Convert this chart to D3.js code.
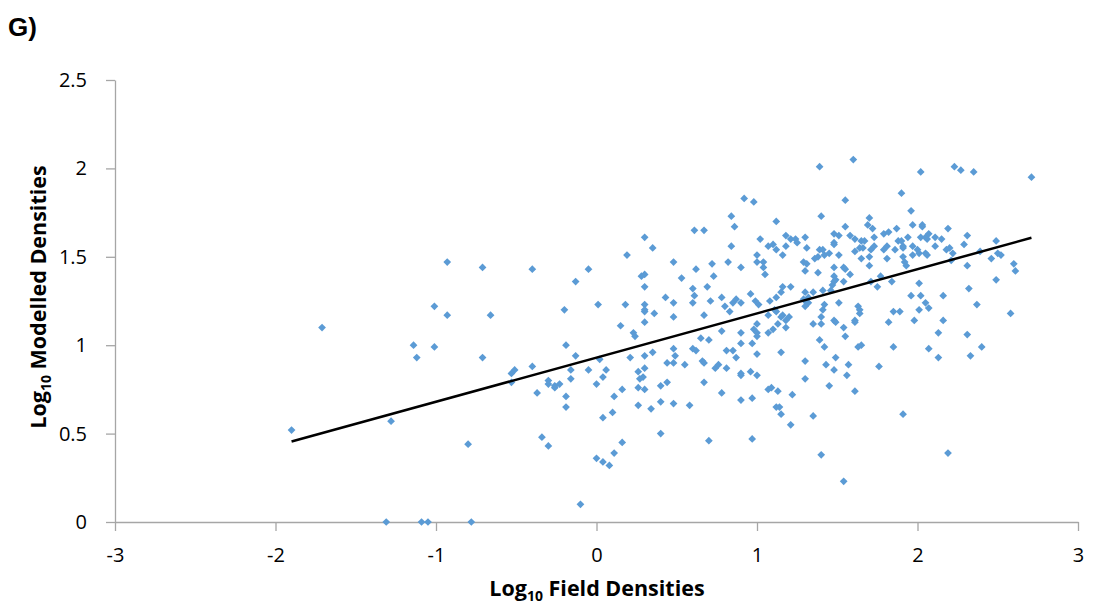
<!DOCTYPE html>
<html>
<head>
<meta charset="utf-8">
<script src="https://cdn.jsdelivr.net/npm/d3@7"></script>
<style>
  html, body { margin: 0; padding: 0; background: #fff; }
  svg { display: block; }
  .tick text { font-family: "Open Sans", "Noto Sans", sans-serif; }
</style>
</head>
<body>
<svg id="chart" width="1094" height="605"></svg>
<script>
// Panel G: log10 field densities vs log10 modelled densities, one point per site
const panelLabel = "G)";
const xTicks = [-3, -2, -1, 0, 1, 2, 3];
const yTicks = [0, 0.5, 1, 1.5, 2, 2.5];

const logField = [
  -0.93,-0.71,-0.40,-1.01,-0.93,-0.66,-0.20,-1.71,-1.14,-1.01,-0.19,-1.12,-0.71,-0.40,-0.51,-0.53,-0.53,-0.30,-0.30,-0.26,
  -0.26,-0.23,-0.37,-0.19,-0.19,-1.90,-1.28,-0.80,-0.34,-0.30,-1.31,-1.09,-1.05,-0.78,
  0.92,0.98,0.84,0.86,0.61,0.67,0.84,0.30,0.35,0.19,1.00,1.00,-0.05,0.48,0.62,0.72,0.82,0.90,-0.13,0.28,
  0.30,0.53,0.73,0.30,0.60,0.69,0.61,0.96,0.01,0.18,0.30,0.30,0.30,0.43,0.48,0.60,0.71,0.78,0.85,0.87,
  0.90,0.99,1.01,0.80,0.83,0.36,0.67,0.48,0.15,0.30,1.00,0.23,0.24,0.78,0.90,0.98,0.65,
  -0.13,0.02,-0.05,-0.16,-0.16,0.06,0.04,0.00,0.21,0.30,0.35,0.48,0.49,0.44,0.48,0.55,0.30,0.26,0.29,0.27,
  0.16,0.11,0.26,0.30,0.40,0.44,0.26,0.34,0.40,0.48,0.58,0.10,0.04,0.16,0.11,0.00,0.04,0.08,-0.10,0.40,
  0.60,0.62,0.70,0.66,0.67,0.74,0.76,0.81,0.85,0.87,0.81,0.90,0.97,0.90,0.90,0.96,0.67,0.78,0.90,0.97,
  0.70,0.97,1.00,1.00,
  1.60,1.39,1.55,1.40,1.12,1.70,1.69,1.72,1.55,1.02,1.18,1.21,1.24,1.25,1.30,1.48,1.51,1.58,1.61,1.65,
  1.67,1.73,1.79,1.82,1.07,1.10,1.12,1.18,1.31,1.48,1.48,1.39,1.41,1.61,1.64,1.66,1.71,1.73,1.79,1.81,
  1.16,1.38,1.36,1.42,1.45,1.51,1.65,1.70,1.81,1.04,1.04,1.05,1.29,1.31,1.30,1.38,1.48,1.54,1.55,1.70,
  1.58,1.48,1.49,1.48,1.47,1.54,1.77,1.84,1.75,1.71,1.16,1.21,1.15,1.12,1.08,1.30,1.32,1.29,1.35,1.41,
  1.46,1.31,1.32,1.30,1.51,1.42,1.41,1.40,1.48,1.49,1.35,1.40,1.61,1.61,1.63,1.64,1.64,1.54,1.55,1.39,
  1.82,1.85,1.07,1.12,1.11,1.13,1.16,1.18,1.20,1.15,1.18,1.07,1.10,
  1.00,1.00,1.42,1.63,1.65,1.85,1.15,1.30,1.49,1.43,1.57,1.76,1.48,1.56,1.30,1.45,1.61,1.07,1.09,1.13,
  1.22,1.12,1.14,1.15,1.35,1.21,1.40,1.54,
  2.23,2.27,2.35,2.02,2.71,1.90,1.96,1.87,1.97,2.03,2.03,2.19,1.94,2.02,2.05,2.06,2.07,2.11,2.15,2.31,
  2.49,1.88,1.90,1.91,1.91,1.86,1.97,2.00,2.01,1.97,2.05,2.06,1.91,1.92,1.93,2.11,2.18,2.20,2.22,2.29,
  2.21,2.31,2.39,2.46,2.50,2.52,2.60,2.61,2.49,2.01,1.96,2.02,2.16,2.32,2.05,2.07,2.01,1.89,2.37,2.58,
  1.98,2.16,2.13,2.31,
  2.07,2.13,2.40,2.33,1.91,2.19
];

const logModelled = [
  1.47,1.44,1.43,1.22,1.17,1.17,1.20,1.10,1.00,0.99,1.00,0.93,0.93,0.88,0.86,0.84,0.79,0.80,0.78,0.77,
  0.76,0.78,0.73,0.71,0.65,0.52,0.57,0.44,0.48,0.43,0,0,0,0,
  1.83,1.81,1.73,1.67,1.65,1.65,1.56,1.61,1.55,1.51,1.51,1.47,1.43,1.47,1.43,1.46,1.47,1.44,1.36,1.39,
  1.40,1.38,1.39,1.33,1.32,1.33,1.28,1.29,1.23,1.23,1.23,1.20,1.19,1.27,1.24,1.24,1.25,1.27,1.24,1.26,
  1.24,1.25,1.23,1.22,1.19,1.18,1.17,1.16,1.11,1.13,1.12,1.07,1.05,1.08,1.07,1.09,1.04,
  0.94,0.92,0.86,0.86,0.81,0.86,0.82,0.78,0.93,0.94,0.96,0.98,0.94,0.90,0.90,0.89,0.87,0.85,0.82,0.81,
  0.75,0.71,0.76,0.75,0.77,0.79,0.66,0.64,0.68,0.67,0.66,0.62,0.59,0.45,0.39,0.36,0.34,0.32,0.10,0.50,
  0.98,0.97,1.03,0.91,0.90,0.87,0.89,0.97,0.97,0.93,0.87,1.01,1.01,0.84,0.83,0.85,0.79,0.73,0.69,0.70,
  0.46,0.47,0.95,0.83,
  2.05,2.01,1.82,1.73,1.70,1.72,1.68,1.66,1.67,1.60,1.62,1.60,1.60,1.58,1.61,1.63,1.62,1.62,1.60,1.59,
  1.59,1.61,1.63,1.64,1.56,1.57,1.54,1.56,1.55,1.58,1.57,1.54,1.54,1.53,1.55,1.55,1.54,1.56,1.54,1.56,
  1.51,1.50,1.49,1.51,1.52,1.51,1.49,1.50,1.49,1.47,1.44,1.40,1.47,1.46,1.42,1.41,1.44,1.44,1.43,1.45,
  1.40,1.39,1.37,1.36,1.34,1.36,1.39,1.36,1.33,1.36,1.33,1.33,1.30,1.27,1.25,1.30,1.27,1.26,1.30,1.31,
  1.31,1.24,1.24,1.22,1.24,1.23,1.20,1.16,1.14,1.13,1.12,1.12,1.14,1.13,1.22,1.20,1.18,1.10,1.05,1.03,
  1.13,1.19,1.17,1.19,1.20,1.12,1.17,1.14,1.16,1.16,1.10,1.07,1.09,
  1.07,1.05,0.99,0.99,1.00,0.99,0.96,0.91,0.93,0.89,0.89,0.88,0.86,0.83,0.81,0.77,0.74,0.75,0.76,0.74,
  0.72,0.65,0.65,0.61,0.60,0.55,0.38,0.23,
  2.01,1.99,1.98,1.98,1.95,1.86,1.76,1.66,1.68,1.68,1.67,1.66,1.61,1.61,1.61,1.60,1.63,1.61,1.60,1.62,
  1.59,1.59,1.59,1.56,1.55,1.54,1.56,1.54,1.52,1.51,1.52,1.51,1.50,1.47,1.45,1.56,1.54,1.55,1.52,1.57,
  1.48,1.45,1.53,1.49,1.52,1.51,1.46,1.42,1.37,1.35,1.28,1.28,1.28,1.32,1.24,1.21,1.20,1.19,1.23,1.18,
  1.14,1.14,1.07,1.06,
  0.98,0.93,0.99,0.94,0.61,0.39
];

// Linear trend line fitted to the points
const trendSlope = 0.25;
const trendIntercept = 0.93;

const points = logField.map((v, i) => ({ x: v, y: logModelled[i] }));

const svg = d3.select("#chart");
const plot = { left: 115, right: 1078, top: 80, bottom: 522 };

const x = d3.scaleLinear().domain([-3, 3]).range([plot.left, plot.right]);
const y = d3.scaleLinear().domain([0, 2.5]).range([plot.bottom, plot.top]);

const axisColor = "#a6a6a6";

// x axis
const gx = svg.append("g")
  .attr("transform", `translate(0,${plot.bottom})`)
  .call(d3.axisBottom(x).tickValues(xTicks).tickFormat(d => String(d))
    .tickSizeInner(9).tickSizeOuter(0).tickPadding(17));
gx.select(".domain").attr("stroke", axisColor).attr("stroke-width", 1.3);
gx.selectAll(".tick line").attr("stroke", axisColor).attr("stroke-width", 1.3);
gx.selectAll(".tick text").attr("font-size", 20).attr("fill", "#000");

// y axis
const gy = svg.append("g")
  .attr("transform", `translate(${plot.left},0)`)
  .call(d3.axisLeft(y).tickValues(yTicks).tickFormat(d => String(d))
    .tickSizeInner(9).tickSizeOuter(0).tickPadding(19));
gy.select(".domain").attr("stroke", axisColor).attr("stroke-width", 1.3);
gy.selectAll(".tick line").attr("stroke", axisColor).attr("stroke-width", 1.3);
gy.selectAll(".tick text").attr("font-size", 20).attr("fill", "#000");

// scatter markers (diamonds)
const diamond = d3.symbol().type(d3.symbolSquare).size(30);
svg.append("g").selectAll("path")
  .data(points)
  .join("path")
  .attr("d", diamond)
  .attr("transform", d => `translate(${x(d.x)},${y(d.y)}) rotate(45)`)
  .attr("fill", "#5b9bd5");

// trend line across the range of the data
const [xMin, xMax] = d3.extent(logField);
const trend = [xMin, xMax].map(v => ({ x: v, y: trendIntercept + trendSlope * v }));
svg.append("path")
  .datum(trend)
  .attr("d", d3.line().x(d => x(d.x)).y(d => y(d.y)))
  .attr("fill", "none")
  .attr("stroke", "#000")
  .attr("stroke-width", 2.5);

// axis titles
const titleFont = "'Open Sans', 'Noto Sans', sans-serif";
const xt = svg.append("text")
  .attr("x", 597).attr("y", 596)
  .attr("text-anchor", "middle")
  .attr("font-family", titleFont).attr("font-weight", "bold").attr("font-size", 21.5);
xt.append("tspan").text("Log");
xt.append("tspan").attr("font-size", 14).attr("dy", 5).text("10");
xt.append("tspan").attr("dy", -5).text(" Field Densities");

const yt = svg.append("text")
  .attr("transform", "translate(46,297) rotate(-90)")
  .attr("text-anchor", "middle")
  .attr("font-family", titleFont).attr("font-weight", "bold").attr("font-size", 21.5);
yt.append("tspan").text("Log");
yt.append("tspan").attr("font-size", 14).attr("dy", 5).text("10");
yt.append("tspan").attr("dy", -5).text(" Modelled Densities");

// panel label
svg.append("text")
  .attr("x", 8).attr("y", 36)
  .attr("font-family", "'Liberation Sans', Arial, sans-serif")
  .attr("font-weight", "bold").attr("font-size", 26)
  .text(panelLabel);
</script>
</body>
</html>
